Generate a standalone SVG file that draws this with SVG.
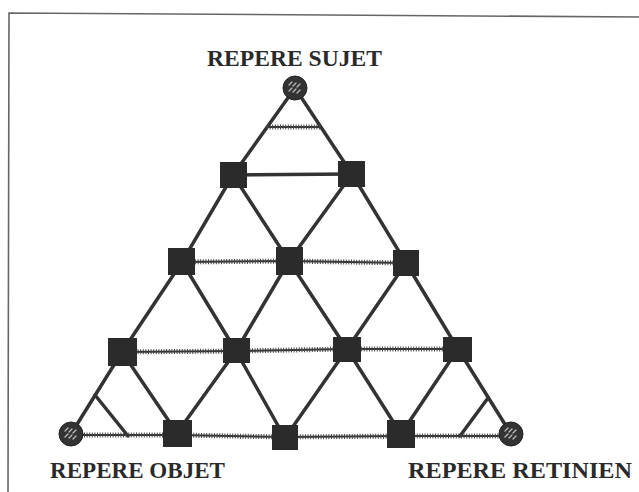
<svg xmlns="http://www.w3.org/2000/svg" width="639" height="492" viewBox="0 0 639 492">
<style>
.e{stroke:#333;stroke-width:3.5;fill:none;stroke-linecap:round}
.hb{stroke:#333;stroke-width:2;fill:none}
.hd{stroke:#444;stroke-width:5;fill:none;stroke-dasharray:1 1.6}
.sq{fill:#2b2b2b}
.ci{fill:#333;stroke:#222;stroke-width:1}
.hatch{stroke:#bbb;stroke-width:1.3;stroke-linecap:round}
.lbl{font-family:"Liberation Serif","DejaVu Serif",serif;font-weight:bold;font-size:23px;fill:#2a2a2a}
</style>
<rect width="639" height="492" fill="#fff"/>
<g id="frame">
<path d="M8,492 L9,13 L639,17" fill="none" stroke="#666" stroke-width="1.6"/>
</g>
<g id="connectors">
<line class="e" x1="295" y1="88" x2="233" y2="175"/>
<line class="e" x1="295" y1="88" x2="352" y2="174"/>
<line class="hb" x1="267" y1="127" x2="321" y2="127"/>
<line class="hd" x1="267" y1="127" x2="321" y2="127"/>
<line class="e" x1="233" y1="175" x2="352" y2="174"/>
<line class="e" x1="233" y1="175" x2="182" y2="262"/>
<line class="e" x1="233" y1="175" x2="289" y2="261"/>
<line class="e" x1="352" y1="174" x2="289" y2="261"/>
<line class="e" x1="352" y1="174" x2="406" y2="263"/>
<polyline class="hb" points="182,262 289,261 406,263"/>
<polyline class="hd" points="182,262 289,261 406,263"/>
<line class="e" x1="182" y1="262" x2="122" y2="352"/>
<line class="e" x1="182" y1="262" x2="236" y2="351"/>
<line class="e" x1="289" y1="261" x2="236" y2="351"/>
<line class="e" x1="289" y1="261" x2="347" y2="349"/>
<line class="e" x1="406" y1="263" x2="347" y2="349"/>
<line class="e" x1="406" y1="263" x2="458" y2="349"/>
<polyline class="hb" points="122,352 236,351 347,349 458,349"/>
<polyline class="hd" points="122,352 236,351 347,349 458,349"/>
<line class="e" x1="122" y1="352" x2="71" y2="434"/>
<line class="e" x1="122" y1="352" x2="177" y2="433"/>
<line class="e" x1="236" y1="351" x2="177" y2="433"/>
<line class="e" x1="236" y1="351" x2="285" y2="438"/>
<line class="e" x1="347" y1="349" x2="285" y2="438"/>
<line class="e" x1="347" y1="349" x2="401" y2="434"/>
<line class="e" x1="458" y1="349" x2="401" y2="434"/>
<line class="e" x1="458" y1="349" x2="511" y2="434"/>
<line class="e" x1="95" y1="395" x2="128" y2="436"/>
<line class="e" x1="488" y1="398" x2="460" y2="436"/>
<polyline class="hb" points="71,435 177,435 285,437 401,436 511,436"/>
<polyline class="hd" points="71,435 177,435 285,437 401,436 511,436"/>
</g>
<g id="n-sujet">
<circle class="ci" cx="295" cy="88" r="12"/>
<path class="hatch" d="M289,85 l3,-3 M293,86 l3,-3 M297,87 l3,-3 M289,91 l3,-3 M293,92 l3,-3 M297,93 l3,-3"/>
</g>
<g id="n-objet">
<circle class="ci" cx="71" cy="434" r="12"/>
<path class="hatch" d="M65,431 l3,-3 M69,432 l3,-3 M73,433 l3,-3 M65,437 l3,-3 M69,438 l3,-3 M73,439 l3,-3"/>
</g>
<g id="n-retinien">
<circle class="ci" cx="511" cy="434" r="12"/>
<path class="hatch" d="M505,431 l3,-3 M509,432 l3,-3 M513,433 l3,-3 M505,437 l3,-3 M509,438 l3,-3 M513,439 l3,-3"/>
</g>
<g id="n1"><rect class="sq" x="220" y="162" width="27" height="26"/></g>
<g id="n2"><rect class="sq" x="338" y="161" width="27" height="26"/></g>
<g id="n3"><rect class="sq" x="168" y="248" width="27" height="27"/></g>
<g id="n4"><rect class="sq" x="276" y="247" width="27" height="28"/></g>
<g id="n5"><rect class="sq" x="393" y="250" width="26" height="26"/></g>
<g id="n6"><rect class="sq" x="108" y="338" width="29" height="28"/></g>
<g id="n7"><rect class="sq" x="223" y="338" width="27" height="25"/></g>
<g id="n8"><rect class="sq" x="333" y="337" width="28" height="25"/></g>
<g id="n9"><rect class="sq" x="443" y="337" width="29" height="25"/></g>
<g id="n10"><rect class="sq" x="163" y="420" width="29" height="27"/></g>
<g id="n11"><rect class="sq" x="272" y="425" width="26" height="25"/></g>
<g id="n12"><rect class="sq" x="387" y="420" width="28" height="28"/></g>
<g id="labels">
<text class="lbl" x="207" y="66" textLength="175" lengthAdjust="spacingAndGlyphs">REPERE SUJET</text>
<text class="lbl" x="50" y="478" textLength="175" lengthAdjust="spacingAndGlyphs">REPERE OBJET</text>
<text class="lbl" x="408" y="478" textLength="224" lengthAdjust="spacingAndGlyphs">REPERE RETINIEN</text>
</g>
</svg>
